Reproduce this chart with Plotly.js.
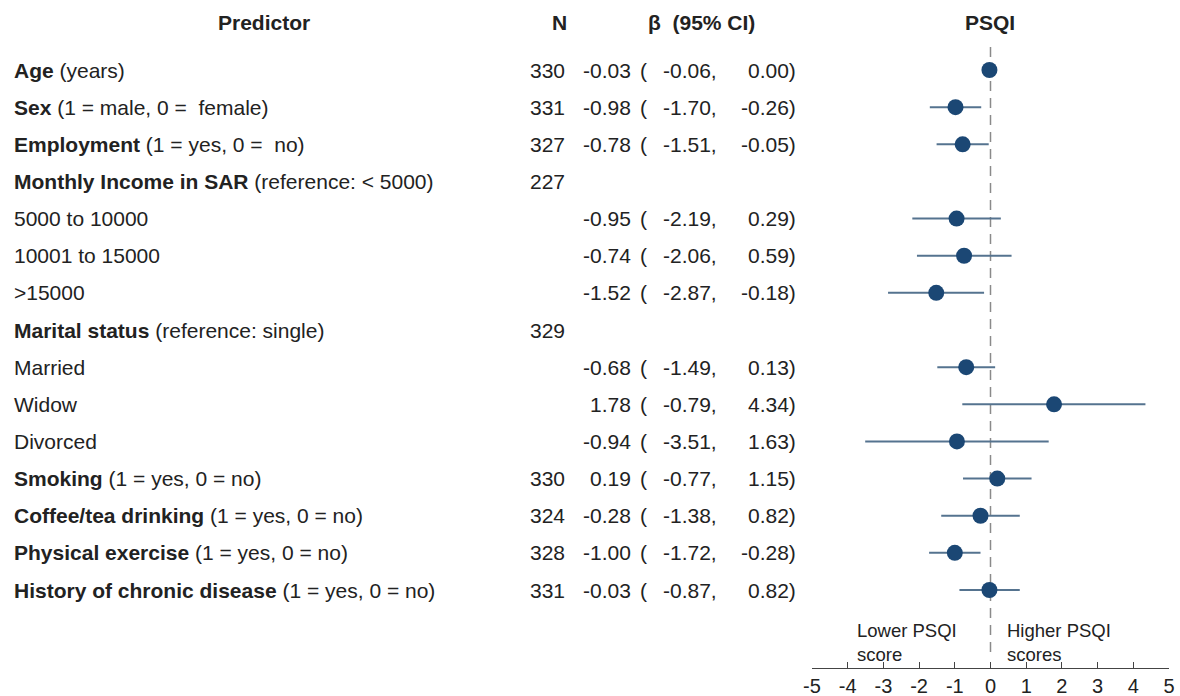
<!DOCTYPE html>
<html>
<head>
<meta charset="utf-8">
<script src="https://cdn.plot.ly/plotly-3.0.1.min.js"></script>
<style>html,body{margin:0;padding:0;background:#fff}#chart{width:1180px;height:696px}</style>
</head>
<body>
<div id="chart"></div>
<script>
// ---- data ----
const predictorBold = ["Age","Sex","Employment","Monthly Income in SAR","","","","Marital status","","","","Smoking","Coffee/tea drinking","Physical exercise","History of chronic disease"];
const predictorNote = ["(years)","(1 = male, 0 = &nbsp;female)","(1 = yes, 0 = &nbsp;no)","(reference: &lt; 5000)","5000 to 10000","10001 to 15000","&gt;15000","(reference: single)","Married","Widow","Divorced","(1 = yes, 0 = no)","(1 = yes, 0 = no)","(1 = yes, 0 = no)","(1 = yes, 0 = no)"];
const nValues = [330,331,327,227,null,null,null,329,null,null,null,330,324,328,331];
const beta  = [-0.03,-0.98,-0.78,null,-0.95,-0.74,-1.52,null,-0.68,1.78,-0.94,0.19,-0.28,-1.00,-0.03];
const lower = [-0.06,-1.70,-1.51,null,-2.19,-2.06,-2.87,null,-1.49,-0.79,-3.51,-0.77,-1.38,-1.72,-0.87];
const upper = [ 0.00,-0.26,-0.05,null, 0.29, 0.59,-0.18,null, 0.13, 4.34, 1.63, 1.15, 0.82,-0.28, 0.82];
const xTicks = [-5,-4,-3,-2,-1,0,1,2,3,4,5];
const headers = {predictor:"Predictor", n:"N", ci:"β &nbsp;(95% CI)", psqi:"PSQI"};
const lowerNote = "Lower PSQI<br>score";
const higherNote = "Higher PSQI<br>scores";

// ---- layout helpers ----
const W = 1180;
const FONT = "Liberation Sans, Arial, Helvetica, sans-serif";
const TXT = "#222";
const FS = 21;
const px = v => v / W;
const rows = beta.map((_, i) => i);
const fmt = v => v.toFixed(2);

const ann = [];
function add(x, y, text, anchor, opts) {
  ann.push(Object.assign({
    xref: "paper", yref: "y", x: px(x), y: y, text: text,
    xanchor: anchor, yanchor: "middle", showarrow: false,
    font: {family: FONT, size: FS, color: TXT}
  }, opts || {}));
}

// headers
const hy = -1.29;
add(264, hy, "<b>" + headers.predictor + "</b>", "center");
add(559, hy, "<b>" + headers.n + "</b>", "center");
add(701, hy, "<b>" + headers.ci + "</b>", "center");
add(990, hy, "<b>" + headers.psqi + "</b>", "center");

rows.forEach(i => {
  const lbl = predictorBold[i] ? "<b>" + predictorBold[i] + "</b> " + predictorNote[i] : predictorNote[i];
  add(12, i, lbl, "left");
  if (nValues[i] !== null) add(567, i, String(nValues[i]), "right");
  if (beta[i] !== null) {
    add(633, i, fmt(beta[i]), "right");
    add(638, i, "(", "left");
    add(719, i, fmt(lower[i]) + ",", "right");
    add(798, i, fmt(upper[i]) + ")", "right");
  }
});

add(855, 15.4, lowerNote, "left", {align: "left", font: {family: FONT, size: 18.5, color: TXT}});
add(1005, 15.4, higherNote, "left", {align: "left", font: {family: FONT, size: 18.5, color: TXT}});

const trace = {
  type: "scatter", mode: "markers",
  x: beta, y: rows,
  marker: {size: 16, color: "#1b4774"},
  error_x: {
    type: "data", symmetric: false,
    array: beta.map((b, i) => b === null ? null : upper[i] - b),
    arrayminus: beta.map((b, i) => b === null ? null : b - lower[i]),
    width: 0, thickness: 2, color: "#55738f"
  },
  cliponaxis: false, hoverinfo: "skip"
};

const layout = {
  width: 1180, height: 696,
  margin: {l: 0, r: 0, t: 0, b: 28},
  paper_bgcolor: "#fff", plot_bgcolor: "#fff",
  showlegend: false,
  xaxis: {
    domain: [px(812), px(1169)], range: [-5, 5],
    tickvals: xTicks, ticktext: xTicks.map(String),
    ticks: "inside", ticklen: 6, tickcolor: "#444", tickwidth: 1,
    showline: true, linecolor: "#444", linewidth: 1,
    showgrid: false, zeroline: false,
    tickfont: {family: FONT, size: 20, color: TXT}
  },
  yaxis: {range: [16.10, -1.885], visible: false, showgrid: false, zeroline: false},
  shapes: [{
    type: "line", xref: "x", yref: "y", x0: 0, x1: 0, y0: -0.62, y1: 15.8,
    line: {color: "#8a8a8a", width: 1.5, dash: "10px,7px"}, layer: "below"
  }],
  annotations: ann
};

Plotly.newPlot("chart", [trace], layout, {staticPlot: true, displayModeBar: false});
</script>
</body>
</html>
